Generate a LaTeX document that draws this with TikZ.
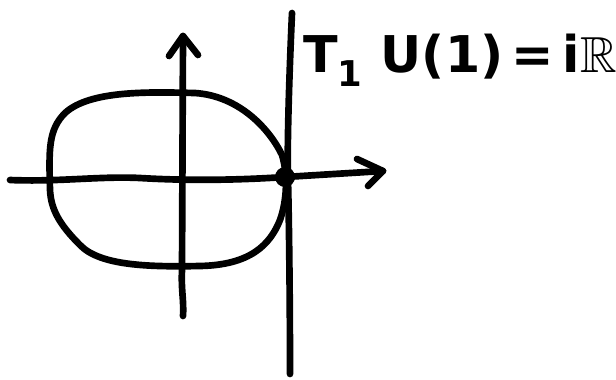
\documentclass[tikz,border=0pt]{standalone}
\usepackage{amssymb}
\usepackage{fontspec}
\setmainfont{DejaVu Sans}
\begin{document}
\begin{tikzpicture}[x=0.75pt,y=-0.75pt,
  stroke/.style={line width=5pt,line cap=round,line join=round},
  arm/.style={stroke},
  lbl/.style={anchor=base west,inner sep=0pt,font=\fontsize{38}{46}\selectfont\bfseries}]
\useasboundingbox (0,0) rectangle (616,379);
% horizontal axis
\coordinate (hl) at (10,180);
\coordinate (hr) at (383,171);
\draw[stroke] (hl) .. controls (60,182) and (100,176) .. (140,178)
  .. controls (190,181) and (240,180) .. (285,177) -- (hr);
\coordinate (ha1) at (357,159);
\coordinate (ha2) at (368,186);
\draw[arm] (ha1) -- (hr) -- (ha2);
% vertical axis
\coordinate (vb) at (183,316);
\coordinate (vt) at (183,36);
\draw[stroke] (vb) .. controls (184,300) and (181,290) .. (182,270) -- (vt);
\coordinate (va1) at (169,56);
\coordinate (va2) at (198,55);
\draw[arm] (va1) -- (vt) -- (va2);
% circle U(1)
\draw[stroke] (50,190) .. controls (49,150) and (48,130) .. (65,113)
  .. controls (90,90) and (150,92) .. (195,93)
  .. controls (240,96) and (270,130) .. (282,155)
  .. controls (288,175) and (287,200) .. (280,220)
  .. controls (270,245) and (250,265) .. (200,266)
  .. controls (150,267) and (100,266) .. (80,245)
  .. controls (60,225) and (51,210) .. (50,190);
% tangent line
\coordinate (tt) at (292,13);
\coordinate (tb) at (290,374);
\draw[stroke] (tt) .. controls (289,80) and (287,150) .. (288,180)
  .. controls (289,220) and (290,300) .. (tb);
% point 1
\node[circle,fill=black,minimum size=15pt,inner sep=0pt] (one) at (285,177) {};
% label
\node[lbl] (label) at (303,72) {T$_{\mathbf{1}}$ U(1)\,=\,i$\mathbb{R}$};
\end{tikzpicture}
\end{document}
